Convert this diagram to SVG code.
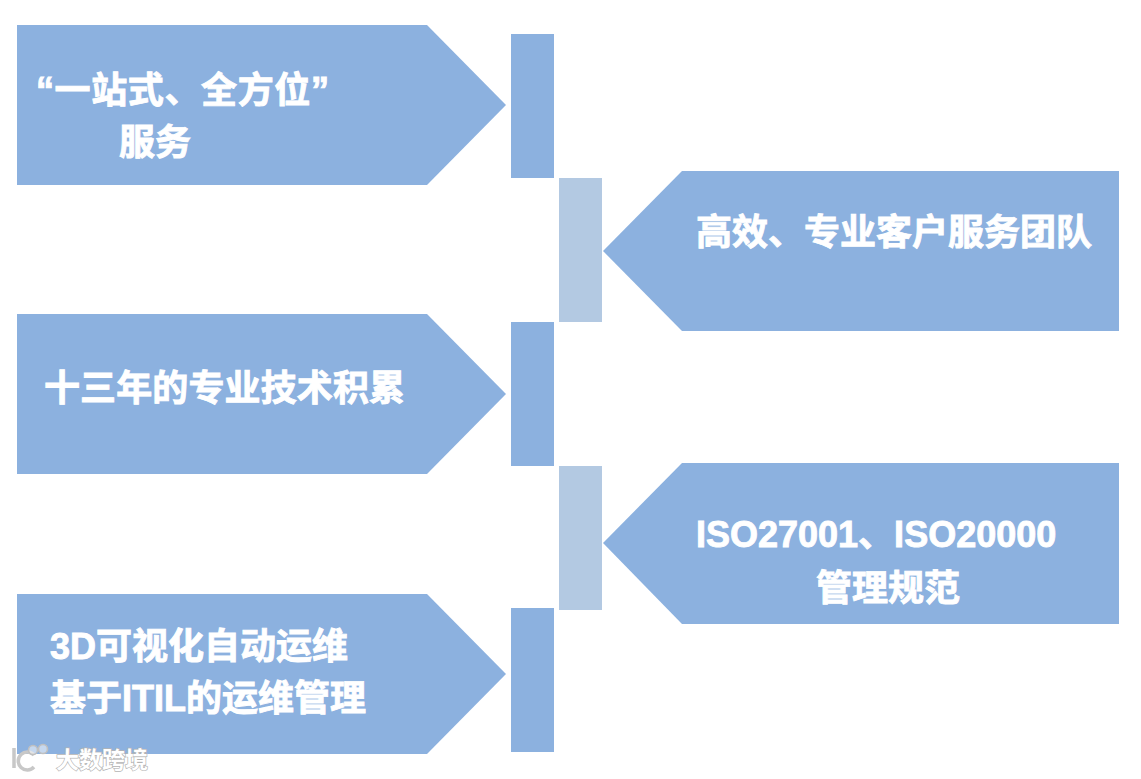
<svg xmlns="http://www.w3.org/2000/svg" width="1141" height="779" viewBox="0 0 1141 779">
<style>
.a{fill:#8cb1df}
.b{fill:#b3c9e2}
text{font-family:"Liberation Sans","Noto Sans CJK SC",sans-serif;font-weight:700;font-size:36px;fill:#fff}
.t{stroke:#fff;stroke-width:.9}
.wm{font-size:23px;font-weight:700;fill:#fff;stroke:#b4b4b4;stroke-width:1.4;paint-order:stroke}
.wc{fill:#fff;fill-opacity:.5;stroke:#c0c0c0;stroke-width:1.6}
.wl{fill:none;stroke:#c8c8c8;stroke-width:3.5}
</style>
<rect width="1141" height="779" fill="#fff"/>
<g id="node-1"><path class="a" d="M17 25H427L506 105L427 185H17Z"/><text class="t" x="36" y="103" textLength="293">“一站式、全方位”</text><text class="t" x="119" y="155">服务</text></g>
<g id="bar-1"><rect class="a" x="511" y="34" width="43" height="144"/></g>
<g id="node-2"><path class="a" d="M1119 171H682L603 251L682 331H1119Z"/><text class="t" x="696" y="245">高效、专业客户服务团队</text></g>
<g id="bar-2"><rect class="b" x="559" y="178" width="43" height="144"/></g>
<g id="node-3"><path class="a" d="M17 314H427L506 394L427 474H17Z"/><text class="t" x="44" y="401" textLength="361">十三年的专业技术积累</text></g>
<g id="bar-3"><rect class="a" x="511" y="322" width="43" height="144"/></g>
<g id="node-4"><path class="a" d="M1119 463H682L603 543L682 624H1119Z"/><text class="t" x="696" y="547">ISO27001、ISO20000</text><text class="t" x="816" y="601">管理规范</text></g>
<g id="bar-4"><rect class="b" x="559" y="466" width="43" height="144"/></g>
<g id="node-5"><path class="a" d="M17 594H427L506 674L427 754H17Z"/><text class="t" x="50" y="659">3D可视化自动运维</text><text class="t" x="50" y="711">基于ITIL的运维管理</text></g>
<g id="bar-5"><rect class="a" x="511" y="608" width="43" height="144"/></g>
<g id="watermark"><path class="wl" d="M14 748V768M34 755A9 9 0 1 0 34 767"/><circle class="wc" cx="33" cy="750" r="4.5"/><circle class="wc" cx="43" cy="749" r="4.5"/><text class="wm" x="56" y="768">大数跨境</text></g>
</svg>
